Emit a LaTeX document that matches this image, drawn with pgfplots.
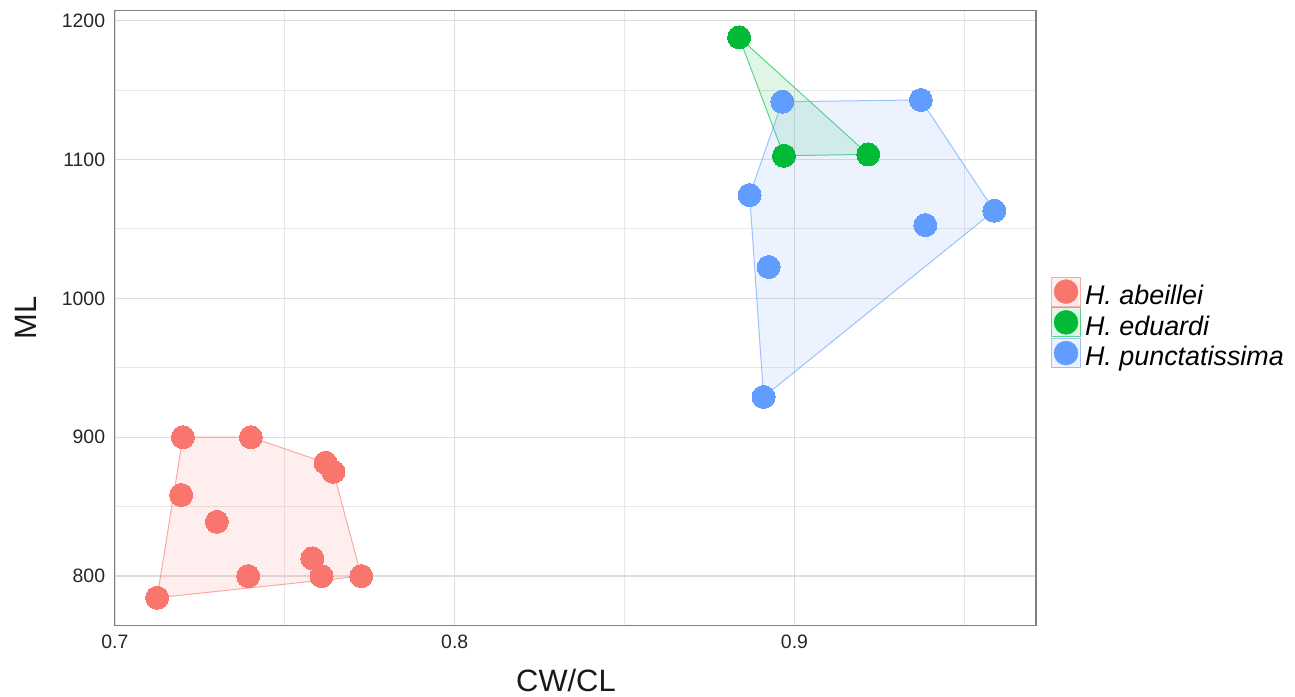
\documentclass[border=0pt]{standalone}
\usepackage{pgfplots}
\pgfplotsset{compat=1.18}
\usepackage{fontspec}
\setmainfont{Liberation Sans}
\definecolor{cA}{HTML}{F8766D}
\definecolor{cE}{HTML}{00BA38}
\definecolor{cP}{HTML}{619CFF}
\begin{document}
\begin{tikzpicture}
\begin{axis}[
  name=ax,
  scale only axis,
  width=922bp, height=615bp,
  xmin=0.6998, xmax=0.9711, ymin=764.3, ymax=1207.1,
  xtick={0.7,0.8,0.9}, minor xtick={0.75,0.85,0.95},
  ytick={800,900,1000,1100,1200}, minor ytick={850,950,1050,1150},
  xticklabels={0.7,0.8,0.9},
  grid=both,
  major grid style={draw=black!13, line width=1.3bp},
  minor grid style={draw=black!9, line width=1.1bp},
  major tick length=0pt, minor tick length=0pt,
  axis line style={draw=black!50, line width=1.4bp},
  /pgf/number format/assume math mode=true,
  ticklabel style={font=\fontsize{19.5}{23}\selectfont, text=black!85},
  xticklabel style={inner sep=0pt, yshift=-9bp},
  yticklabel style={inner sep=0pt, xshift=-9bp},
  scaled ticks=false,
  yticklabel={\pgfmathprintnumber[fixed,precision=0,1000 sep={}]{\tick}},
  xlabel={CW/CL}, ylabel={ML},
  label style={font=\fontsize{31}{36}\selectfont, text=black!90},
  xlabel style={at={([yshift=-55bp]axis description cs:0.49,0)}, anchor=center},
  ylabel style={at={([xshift=-88bp]axis description cs:0,0.5)}, anchor=center, rotate=0},
  legend style={at={([xshift=15bp,yshift=-6bp]axis description cs:1,0.5)}, anchor=west,
    draw=none, fill=none, inner sep=0pt, outer sep=0pt, row sep=-3bp,
    font=\fontsize{27}{31}\selectfont\itshape,
    nodes={inner sep=0pt, text height=19.5bp, text depth=6bp},
    /tikz/every odd column/.append style={column sep=4bp}},
  legend cell align=left,
  clip=false,
]
% points
\addplot[only marks, mark=*, mark size=11.5bp, mark options={fill=cA, draw=cA, line width=0pt},
  legend image code/.code={
    \draw[draw=cA, draw opacity=0.6, fill=cA, fill opacity=0.12, line width=1bp] (0bp,-8.5bp) rectangle (29bp,20.5bp);
    \fill[cA] (14.5bp,6bp) circle (12bp);}]
  coordinates {(0.7200,900) (0.7400,900) (0.7620,881.6) (0.7643,875.1) (0.7195,858.4) (0.7300,839.1)
   (0.7581,812.8) (0.7392,800) (0.7608,800) (0.7725,800) (0.7124,784.4)};
\addlegendentry{H. abeillei}
\addplot[only marks, mark=*, mark size=11.5bp, mark options={fill=cE, draw=cE, line width=0pt},
  legend image code/.code={
    \draw[draw=cE, draw opacity=0.6, fill=cE, fill opacity=0.12, line width=1bp] (0bp,-8.5bp) rectangle (29bp,20.5bp);
    \fill[cE] (14.5bp,6bp) circle (12bp);}]
  coordinates {(0.8837,1188.0) (0.8969,1102.7) (0.9217,1103.7)};
\addlegendentry{H. eduardi}
\addplot[only marks, mark=*, mark size=11.5bp, mark options={fill=cP, draw=cP, line width=0pt},
  legend image code/.code={
    \draw[draw=cP, draw opacity=0.6, fill=cP, fill opacity=0.12, line width=1bp] (0bp,-8.5bp) rectangle (29bp,20.5bp);
    \fill[cP] (14.5bp,6bp) circle (12bp);}]
  coordinates {(0.8964,1141.6) (0.9372,1142.9) (0.8868,1074.4) (0.9588,1063.1) (0.9385,1052.8)
   (0.8924,1022.6) (0.8909,929.0)};
\addlegendentry{H. punctatissima}
% hulls
\addplot[forget plot, draw=cA, draw opacity=0.6, fill=cA, fill opacity=0.12, line width=1bp]
  coordinates {(0.7124,784.4) (0.7200,900) (0.7400,900) (0.7620,881.6) (0.7643,875.1) (0.7725,800)} -- cycle;
\addplot[forget plot, draw=cE, draw opacity=0.6, fill=cE, fill opacity=0.12, line width=1bp]
  coordinates {(0.8837,1188.0) (0.8969,1102.7) (0.9217,1103.7)} -- cycle;
\addplot[forget plot, draw=cP, draw opacity=0.6, fill=cP, fill opacity=0.12, line width=1bp]
  coordinates {(0.8909,929.0) (0.8868,1074.4) (0.8964,1141.6) (0.9372,1142.9) (0.9588,1063.1)} -- cycle;
\end{axis}
\path ([xshift=-114.3bp,yshift=-70.4bp]ax.south west) rectangle ([xshift=259bp,yshift=10.8bp]ax.north east);
\end{tikzpicture}
\end{document}
